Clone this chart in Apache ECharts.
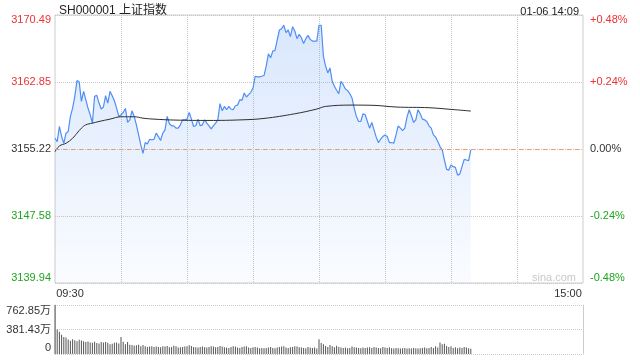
<!DOCTYPE html>
<html>
<head>
<meta charset="utf-8">
<script src="https://cdn.jsdelivr.net/npm/echarts@6/dist/echarts.min.js"></script>
<style>html,body{margin:0;padding:0;background:#fff}#c{width:640px;height:360px}</style>
</head>
<body>
<div id="c"></div>
<script>
// ---- data ----
var titleText = 'SH000001 上证指数';
var stampText = '01-06 14:09';
var prevClose = 3155.22;
var priceMin = 3139.94;
var priceMax = 3170.49;
var priceTicks = ['3139.94', '3147.58', '3155.22', '3162.85', '3170.49'];
var pctTicks = ['-0.48%', '-0.24%', '0.00%', '+0.24%', '+0.48%'];
var volMax = 762.85;
var volTicks = ['0', '381.43万', '762.85万'];
var timeLabels = ['09:30', '15:00'];

// per-minute price, 09:30 .. 14:09
var prices = [
  3156.44, 3156.06, 3157.78, 3156.63, 3155.87, 3157.02, 3157.21, 3158.93, 3159.88, 3161.22,
  3163.01, 3162.86, 3160.64, 3161.79, 3160.84, 3159.88, 3159.12, 3158.16, 3161.22, 3161.33,
  3160.45, 3159.77, 3160.00, 3161.29, 3160.45, 3161.79, 3161.29, 3160.72, 3159.88, 3158.93,
  3159.12, 3159.38, 3159.84, 3158.24, 3158.54, 3159.57, 3158.93, 3157.97, 3156.82, 3155.68,
  3154.72, 3155.95, 3155.79, 3156.33, 3156.25, 3156.33, 3157.02, 3156.63, 3156.18, 3157.02,
  3157.40, 3158.93, 3158.09, 3157.86, 3157.86, 3157.59, 3157.59, 3157.97, 3158.54, 3158.54,
  3158.62, 3159.38, 3158.62, 3157.78, 3157.86, 3158.62, 3157.86, 3157.97, 3158.54, 3158.16,
  3157.86, 3157.51, 3157.86, 3158.16, 3158.54, 3160.38, 3159.57, 3160.07, 3159.69, 3160.07,
  3159.77, 3159.69, 3160.15, 3160.22, 3160.84, 3160.76, 3161.60, 3161.14, 3161.41, 3161.68,
  3162.17, 3163.51, 3163.43, 3163.43, 3163.51, 3163.59, 3164.66, 3166.07, 3165.61, 3166.37,
  3166.45, 3167.64, 3168.78, 3168.93, 3169.32, 3168.48, 3168.78, 3168.02, 3169.16, 3168.67,
  3167.79, 3168.28, 3167.90, 3167.25, 3167.79, 3168.17, 3167.71, 3167.52, 3167.52, 3167.52,
  3169.32, 3169.32, 3165.80, 3164.66, 3163.89, 3164.46, 3162.94, 3162.36, 3161.91, 3161.52,
  3162.94, 3162.55, 3162.06, 3161.87, 3161.52, 3161.03, 3159.88, 3158.93, 3158.35, 3158.35,
  3159.23, 3159.12, 3158.35, 3157.59, 3158.24, 3157.40, 3156.56, 3155.95, 3156.33, 3156.63,
  3156.82, 3156.63, 3155.95, 3155.95, 3155.87, 3156.82, 3157.86, 3157.59, 3157.32, 3157.59,
  3158.85, 3159.69, 3159.00, 3158.24, 3158.54, 3159.69, 3159.23, 3158.62, 3158.54, 3158.35,
  3157.86, 3157.59, 3156.82, 3156.56, 3156.06, 3155.49, 3155.11, 3153.96, 3152.89, 3152.81,
  3153.39, 3153.20, 3153.12, 3152.24, 3152.35, 3153.20, 3154.04, 3153.96, 3153.88, 3155.11
];

// average price line, read at [minute index, value]
var avgPoints = [
  [0, 3154.91], [2, 3155.56], [5, 3155.87], [8, 3156.44], [10, 3157.02], [12, 3157.59],
  [14, 3157.97], [17, 3158.16], [20, 3158.35], [25, 3158.62], [30, 3158.89], [36, 3158.89],
  [40, 3158.73], [45, 3158.62], [55, 3158.51], [70, 3158.47], [85, 3158.54], [95, 3158.70],
  [109, 3159.23], [119, 3159.77], [123, 3160.07], [135, 3160.22], [145, 3160.19],
  [155, 3160.00], [170, 3159.92], [180, 3159.73], [189, 3159.54]
];

// per-minute volume (万)
var volumes = [
  762.85, 381, 345, 300, 265, 255, 225, 205, 230, 215,
  200, 220, 210, 200, 185, 195, 180, 175, 190, 170,
  165, 185, 180, 185, 175, 150, 160, 175, 180, 165,
  265, 190, 150, 185, 145, 140, 130, 135, 145, 120,
  140, 120, 110, 115, 120, 110, 115, 110, 105, 120,
  115, 125, 105, 110, 130, 120, 100, 105, 110, 115,
  120, 135, 125, 110, 105, 100, 110, 115, 105, 100,
  110, 120, 115, 105, 110, 125, 115, 105, 100, 95,
  110, 120, 115, 100, 95, 110, 115, 120, 100, 95,
  105, 110, 100, 90, 95, 90, 95, 100, 110, 95,
  90, 100, 110, 115, 120, 100, 95, 105, 110, 120,
  115, 105, 100, 95, 90, 110, 100, 95, 100, 85,
  230, 170, 150, 125, 110, 140, 120, 105, 130, 110,
  100, 95, 100, 90, 95, 115, 105, 100, 95, 90,
  100, 95, 100, 105, 95, 110, 100, 95, 90, 110,
  100, 95, 105, 90, 85, 95, 90, 85, 90, 95,
  85, 90, 85, 95, 90, 85, 90, 95, 100, 90,
  95, 110, 95, 120, 100, 180, 150, 160, 125, 110,
  120, 95, 105, 90, 100, 95, 110, 100, 90, 80
];

// time categories: 09:30..11:30, 13:01..15:00
var times = [];
(function () {
  function fmt(h, m) { return (h < 10 ? '0' : '') + h + ':' + (m < 10 ? '0' : '') + m; }
  var t;
  for (t = 9 * 60 + 30; t <= 11 * 60 + 30; t++) times.push(fmt(Math.floor(t / 60), t % 60));
  for (t = 13 * 60 + 1; t <= 15 * 60; t++) times.push(fmt(Math.floor(t / 60), t % 60));
})();

// ---- chart ----
var RED = '#ec3232', GREEN = '#1fa51f', DARK = '#333333', BLUE = '#4e8ef5';
var FONT = 'Liberation Sans, "Noto Sans CJK SC", Arial, sans-serif';
var chart = echarts.init(document.getElementById('c'), null, { renderer: 'canvas' });
var pInterval = (priceMax - priceMin) / 4;

function priceCls(i) { return ['gb', 'g', 'n', 'r', 'rt'][i]; }

var option = {
  animation: false,
  backgroundColor: '#fff',
  textStyle: { fontFamily: FONT },
  title: [
    { text: titleText, left: 54, top: 0, textStyle: { fontSize: 12, fontWeight: 'normal', color: '#222', fontFamily: FONT } },
    { text: stampText, right: 56, top: 1, textStyle: { fontSize: 11, fontWeight: 'normal', color: '#222', fontFamily: FONT } }
  ],
  graphic: [
    { type: 'text', right: 64, top: 272, style: { text: 'sina.com', fill: '#c8c8c8', font: '11px ' + FONT } }
  ],
  grid: [
    { left: 55, right: 57, top: 15, height: 268, show: true, borderColor: '#cccccc', borderWidth: 1, backgroundColor: 'transparent' },
    { left: 55, right: 57, top: 305, height: 49 }
  ],
  xAxis: [
    {
      type: 'category', gridIndex: 0, data: times, boundaryGap: false,
      axisLine: { show: false }, axisTick: { show: false },
      axisLabel: {
        margin: 5, fontSize: 11, color: DARK,
        interval: function (i) { return i === 0 || i === times.length - 1; },
        formatter: function (v, i) { return i === 0 ? '{l|' + timeLabels[0] + '}' : '{r|' + timeLabels[1] + '}'; },
        rich: { l: { padding: [0, 0, 0, 30], fontSize: 11, color: DARK }, r: { padding: [0, 30, 0, 0], fontSize: 11, color: DARK } }
      },
      splitLine: {
        show: true,
        interval: function (i) { return i > 0 && i < 240 && i % 30 === 0; },
        lineStyle: { color: '#c8c8c8', type: 'dotted' }
      }
    },
    {
      type: 'category', gridIndex: 1, data: times, boundaryGap: false,
      axisLine: { show: false }, axisTick: { show: false }, axisLabel: { show: false }, splitLine: { show: false }
    }
  ],
  yAxis: [
    {
      type: 'value', gridIndex: 0, position: 'left', min: priceMin, max: priceMax, interval: pInterval,
      axisLine: { show: false }, axisTick: { show: false },
      axisLabel: {
        margin: 4, fontSize: 11,
        formatter: function (v, i) { return '{' + priceCls(i) + '|' + priceTicks[i] + '}'; },
        rich: {
          gb: { color: GREEN, fontSize: 11, padding: [0, 0, 10, 0] },
          g: { color: GREEN, fontSize: 11 },
          n: { color: DARK, fontSize: 11 },
          r: { color: RED, fontSize: 11 },
          rt: { color: RED, fontSize: 11, padding: [10, 0, 0, 0] }
        }
      },
      splitLine: { show: true, lineStyle: { color: '#c8c8c8', type: 'dotted' } }
    },
    {
      type: 'value', gridIndex: 0, position: 'right', min: priceMin, max: priceMax, interval: pInterval,
      axisLine: { show: false }, axisTick: { show: false }, splitLine: { show: false },
      axisLabel: {
        margin: 7, fontSize: 11,
        formatter: function (v, i) { return '{' + priceCls(i) + '|' + pctTicks[i] + '}'; },
        rich: {
          gb: { color: GREEN, fontSize: 11, padding: [0, 0, 10, 0] },
          g: { color: GREEN, fontSize: 11 },
          n: { color: DARK, fontSize: 11 },
          r: { color: RED, fontSize: 11 },
          rt: { color: RED, fontSize: 11, padding: [10, 0, 0, 0] }
        }
      }
    },
    {
      type: 'value', gridIndex: 1, position: 'left', min: 0, max: volMax, interval: volMax / 2,
      axisLine: { show: true, lineStyle: { color: '#cccccc' } }, axisTick: { show: false },
      axisLabel: {
        margin: 4, fontSize: 11,
        formatter: function (v, i) { return '{' + ['b', 'm', 't'][i] + '|' + volTicks[i] + '}'; },
        rich: {
          b: { color: DARK, fontSize: 11, padding: [0, 0, 12, 0] },
          m: { color: DARK, fontSize: 11 },
          t: { color: DARK, fontSize: 11, padding: [12, 0, 0, 0] }
        }
      },
      splitLine: { show: true, lineStyle: { color: '#c8c8c8', type: 'dotted' } }
    },
    {
      type: 'value', gridIndex: 1, position: 'right', min: 0, max: volMax, interval: volMax / 2,
      axisLine: { show: true, lineStyle: { color: '#cccccc' } }, axisTick: { show: false },
      axisLabel: { show: false }, splitLine: { show: false }
    }
  ],
  series: [
    {
      name: 'price', type: 'line', xAxisIndex: 0, yAxisIndex: 0, data: prices,
      showSymbol: false, symbol: 'none',
      lineStyle: { color: BLUE, width: 1.2 },
      areaStyle: {
        origin: 'start',
        color: new echarts.graphic.LinearGradient(0, 0, 0, 1, [
          { offset: 0, color: 'rgba(78,142,245,0.30)' },
          { offset: 1, color: 'rgba(78,142,245,0.04)' }
        ])
      },
      markLine: {
        silent: true, symbol: 'none', label: { show: false },
        lineStyle: { color: '#f09a6a', type: [4, 4], width: 1 },
        data: [{ yAxis: prevClose }]
      },
      z: 3
    },
    {
      name: 'avg', type: 'line', xAxisIndex: 0, yAxisIndex: 0, data: avgPoints,
      smooth: 0.4, showSymbol: false, symbol: 'none',
      lineStyle: { color: '#2f2f2f', width: 1 }, z: 4
    },
    {
      name: 'volume', type: 'bar', xAxisIndex: 1, yAxisIndex: 2, data: volumes,
      barWidth: 1, itemStyle: { color: '#555555' }
    }
  ]
};
chart.setOption(option);
</script>
</body>
</html>
